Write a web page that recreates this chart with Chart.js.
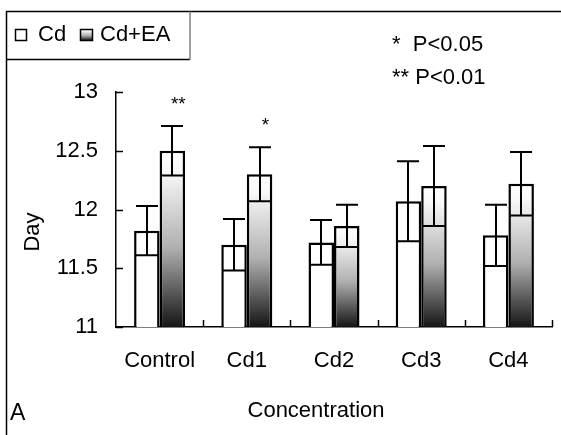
<!DOCTYPE html>
<html>
<head>
<meta charset="utf-8">
<script src="https://cdn.jsdelivr.net/npm/chart.js@4/dist/chart.umd.min.js"></script>
<style>
html,body{margin:0;padding:0;background:#fff;}
#wrap{width:561px;height:435px;position:relative;}
</style>
</head>
<body>
<div id="wrap"><canvas id="c" width="561" height="435"></canvas></div>
<script>
const categories = ['Control', 'Cd1', 'Cd2', 'Cd3', 'Cd4'];
const cdMeans = [11.82, 11.70, 11.72, 12.07, 11.78];
const cdErr   = [0.21, 0.22, 0.19, 0.34, 0.26];
const eaMeans = [12.50, 12.30, 11.86, 12.20, 12.22];
const eaErr   = [0.21, 0.23, 0.18, 0.34, 0.27];
const significance = ['**', '*', '', '', ''];
const yTicks = [11, 11.5, 12, 12.5, 13];
const yTickLabels = ['11', '11.5', '12', '12.5', '13'];
const seriesNames = ['Cd', 'Cd+EA'];
const yTitle = 'Day';
const xTitle = 'Concentration';
const panelLabel = 'A';
const noteLines = ['*  P<0.05', '** P<0.01'];

const FONT = '"Liberation Sans", Arial, sans-serif';
const FS = 22;

function barGradient(ctx, top, bottom) {
  const g = ctx.createLinearGradient(0, top, 0, bottom);
  g.addColorStop(0, '#ffffff');
  g.addColorStop(0.12, '#f8f8f8');
  g.addColorStop(0.55, '#b0b0b0');
  g.addColorStop(1, '#151515');
  return g;
}

const decorPlugin = {
  id: 'decor',
  afterDatasetsDraw(chart) {
    const {ctx, scales} = chart;
    const y = scales.y;
    ctx.save();
    ctx.strokeStyle = '#000';
    ctx.lineWidth = 2;
    const errs = [cdErr, eaErr];
    const means = [cdMeans, eaMeans];
    for (let d = 0; d < 2; d++) {
      const meta = chart.getDatasetMeta(d);
      meta.data.forEach((bar, i) => {
        const x = Math.round(bar.x);
        const yt = y.getPixelForValue(means[d][i] + errs[d][i]);
        const yb = y.getPixelForValue(means[d][i] - errs[d][i]);
        ctx.beginPath();
        ctx.moveTo(x, yt); ctx.lineTo(x, yb);
        ctx.moveTo(x - 11, yt); ctx.lineTo(x + 11, yt);
        ctx.moveTo(x - 11, yb); ctx.lineTo(x + 11, yb);
        ctx.stroke();
      });
    }
    ctx.fillStyle = '#000';
    ctx.font = '19px ' + FONT;
    ctx.textAlign = 'center';
    ctx.textBaseline = 'middle';
    const meta1 = chart.getDatasetMeta(1);
    significance.forEach((s, i) => {
      if (!s) return;
      const bar = meta1.data[i];
      const yt = y.getPixelForValue(eaMeans[i] + eaErr[i]);
      ctx.fillText(s, bar.x + 6, yt - 21);
    });
    ctx.restore();
  },
  afterDraw(chart) {
    const {ctx, scales, chartArea} = chart;
    const x = scales.x, y = scales.y;
    ctx.save();
    ctx.strokeStyle = '#000';
    ctx.lineWidth = 1.5;
    yTicks.forEach(v => {
      const py = Math.round(y.getPixelForValue(v)) + 0.5;
      ctx.beginPath();
      ctx.moveTo(chartArea.left, py); ctx.lineTo(chartArea.left + 7, py);
      ctx.stroke();
    });
    const n = categories.length;
    for (let i = 0; i < n; i++) {
      const px = i < n - 1 ? (x.getPixelForTick(i) + x.getPixelForTick(i + 1)) / 2 : chartArea.right;
      ctx.beginPath();
      ctx.moveTo(Math.round(px) + 0.5, chartArea.bottom); ctx.lineTo(Math.round(px) + 0.5, chartArea.bottom - 7);
      ctx.stroke();
    }
    ctx.lineWidth = 1.5;
    ctx.beginPath();
    ctx.moveTo(6.5, 435); ctx.lineTo(6.5, 11.5); ctx.lineTo(561, 11.5);
    ctx.stroke();
    ctx.beginPath();
    ctx.moveTo(6.5, 59.5); ctx.lineTo(190, 59.5);
    ctx.stroke();
    ctx.strokeStyle = '#808080';
    ctx.beginPath();
    ctx.moveTo(190, 11.5); ctx.lineTo(190, 60);
    ctx.stroke();
    ctx.strokeStyle = '#000';
    ctx.lineWidth = 1.5;
    ctx.fillStyle = '#fff';
    ctx.fillRect(15.5, 29.5, 11, 11);
    ctx.strokeRect(15.5, 29.5, 11, 11);
    ctx.fillStyle = barGradient(ctx, 29.5, 40.5);
    ctx.fillRect(80.5, 29.5, 12, 11);
    ctx.strokeRect(80.5, 29.5, 12, 11);
    ctx.fillStyle = '#000';
    ctx.font = FS + 'px ' + FONT;
    ctx.textAlign = 'left';
    ctx.textBaseline = 'middle';
    ctx.fillText(seriesNames[0], 38, 35);
    ctx.fillText(seriesNames[1], 100, 35);
    ctx.fillText(noteLines[0], 392, 45);
    ctx.fillText(noteLines[1], 392, 78);
    ctx.font = '23px ' + FONT;
    ctx.fillText(panelLabel, 10, 414);
    ctx.font = FS + 'px ' + FONT;
    ctx.textAlign = 'center';
    ctx.fillText(xTitle, 316, 411);
    ctx.translate(33, 232);
    ctx.rotate(-Math.PI / 2);
    ctx.fillText(yTitle, 0, 0);
    ctx.restore();
  }
};

new Chart(document.getElementById('c'), {
  type: 'bar',
  data: {
    labels: categories,
    datasets: [
      {
        label: seriesNames[0],
        data: cdMeans,
        backgroundColor: '#ffffff',
        borderColor: '#000',
        borderWidth: 2.5,
        borderSkipped: false
      },
      {
        label: seriesNames[1],
        data: eaMeans,
        backgroundColor: (context) => {
          const chart = context.chart;
          if (!chart.chartArea || context.type !== 'data') return '#888';
          const y = chart.scales.y;
          const top = y.getPixelForValue(context.raw);
          const bottom = y.getPixelForValue(y.min);
          return barGradient(chart.ctx, top, bottom);
        },
        borderColor: '#000',
        borderWidth: 2.5,
        borderSkipped: false
      }
    ]
  },
  options: {
    responsive: false,
    animation: false,
    devicePixelRatio: 1,
    layout: {padding: {left: 0, right: 9, top: 92, bottom: 0}},
    plugins: {
      legend: {display: false},
      tooltip: {enabled: false},
      title: {display: false}
    },
    datasets: {bar: {categoryPercentage: 0.585, barPercentage: 1.0}},
    scales: {
      x: {
        grid: {display: false, drawTicks: false},
        border: {display: true, color: '#000', width: 1.5},
        ticks: {color: '#000', font: {family: FONT, size: FS}, padding: 21, maxRotation: 0},
        afterFit: (s) => { s.height = 108; }
      },
      y: {
        min: 11, max: 13,
        grid: {display: false, drawTicks: false},
        border: {display: true, color: '#000', width: 1.5},
        ticks: {
          color: '#000', font: {family: FONT, size: FS}, padding: 18,
          callback: (v) => yTickLabels[yTicks.indexOf(v)]
        },
        afterBuildTicks: (s) => { s.ticks = yTicks.map(v => ({value: v})); },
        afterFit: (s) => { s.width = 116; }
      }
    }
  },
  plugins: [decorPlugin]
});
</script>
</body>
</html>
